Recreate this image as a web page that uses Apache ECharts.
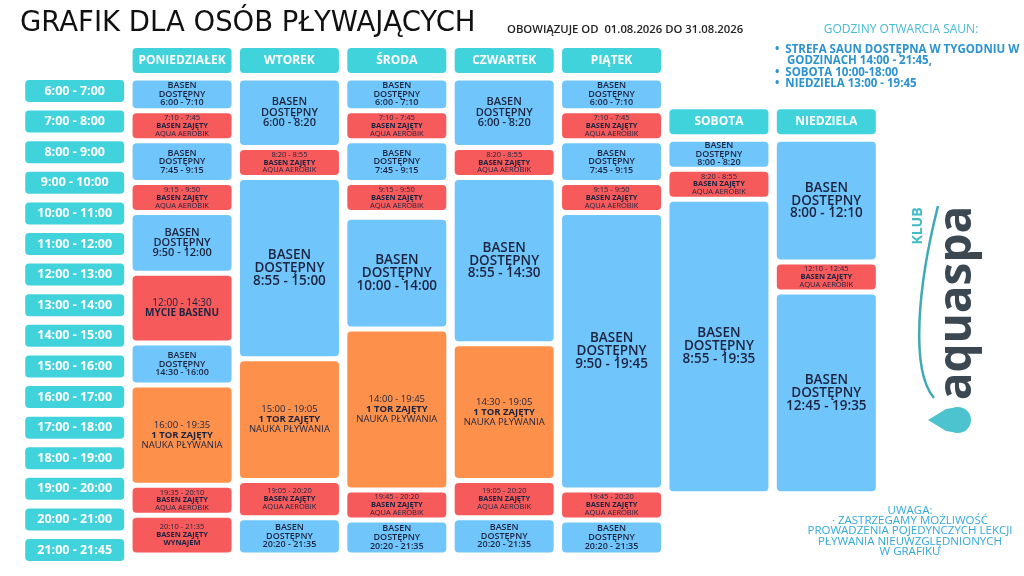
<!DOCTYPE html>
<html>
<head>
<meta charset="utf-8">
<script src="https://cdn.jsdelivr.net/npm/echarts@6/dist/echarts.min.js"></script>
<style>
  html, body { margin: 0; background: #fff; }
  #grafik { width: 1024px; height: 576px; }
</style>
</head>
<body>
<div id="grafik"></div>
<script>
// dni tygodnia i przedzialy godzinowe
var days = ['PONIEDZIAŁEK', 'WTOREK', 'ŚRODA', 'CZWARTEK', 'PIĄTEK', 'SOBOTA', 'NIEDZIELA'];
var hourSlots = ['6:00 - 7:00', '7:00 - 8:00', '8:00 - 9:00', '9:00 - 10:00', '10:00 - 11:00',
  '11:00 - 12:00', '12:00 - 13:00', '13:00 - 14:00', '14:00 - 15:00', '15:00 - 16:00',
  '16:00 - 17:00', '17:00 - 18:00', '18:00 - 19:00', '19:00 - 20:00', '20:00 - 21:00', '21:00 - 21:45'];

// [od, do, rodzaj]
var monday = [['6:00', '7:10', 'wolny'], ['7:10', '7:45', 'aerobik'], ['7:45', '9:15', 'wolny'],
  ['9:15', '9:50', 'aerobik'], ['9:50', '12:00', 'wolny'], ['12:00', '14:30', 'mycie'],
  ['14:30', '16:00', 'wolny'], ['16:00', '19:35', 'nauka'], ['19:35', '20:10', 'aerobik'],
  ['20:10', '21:35', 'wynajem']];
var tuesday = [['6:00', '8:20', 'wolny'], ['8:20', '8:55', 'aerobik'], ['8:55', '15:00', 'wolny'],
  ['15:00', '19:05', 'nauka'], ['19:05', '20:20', 'aerobik'], ['20:20', '21:35', 'wolny']];
var wednesday = [['6:00', '7:10', 'wolny'], ['7:10', '7:45', 'aerobik'], ['7:45', '9:15', 'wolny'],
  ['9:15', '9:50', 'aerobik'], ['10:00', '14:00', 'wolny'], ['14:00', '19:45', 'nauka'],
  ['19:45', '20:20', 'aerobik'], ['20:20', '21:35', 'wolny']];
var thursday = [['6:00', '8:20', 'wolny'], ['8:20', '8:55', 'aerobik'], ['8:55', '14:30', 'wolny'],
  ['14:30', '19:05', 'nauka'], ['19:05', '20:20', 'aerobik'], ['20:20', '21:35', 'wolny']];
var friday = [['6:00', '7:10', 'wolny'], ['7:10', '7:45', 'aerobik'], ['7:45', '9:15', 'wolny'],
  ['9:15', '9:50', 'aerobik'], ['9:50', '19:45', 'wolny'], ['19:45', '20:20', 'aerobik'],
  ['20:20', '21:35', 'wolny']];
var saturday = [['8:00', '8:20', 'wolny'], ['8:20', '8:55', 'aerobik'], ['8:55', '19:35', 'wolny']];
var sunday = [['8:00', '12:10', 'wolny'], ['12:10', '12:45', 'aerobik'], ['12:45', '19:35', 'wolny']];

var week = [monday, tuesday, wednesday, thursday, friday, saturday, sunday];

var FONT = '"Open Sans", sans-serif';
var TEAL = '#41d3dc';
var INK = '#1c2340';
var COLORS = { wolny: '#70c6fa', aerobik: '#f65a5a', nauka: '#fd914b', mycie: '#f65a5a', wynajem: '#f65a5a' };
var BOX_W = 99, GAP = 5, MIN_H = 30;

function toH(s) {
  var p = s.split(':');
  return +p[0] + p[1] / 60;
}

// short blocks get a minimum height, the long ones in the column give up the difference
function layoutDay(d, api) {
  var list = week[d], segs = [], prevEnd = null;
  list.forEach(function (b, i) {
    var s = toH(b[0]), e = toH(b[1]);
    if (prevEnd !== null && s > prevEnd) {
      segs.push({ h: api.coord([d + 1, s])[1] - api.coord([d + 1, prevEnd])[1], idx: -1 });
    }
    segs.push({ h: api.coord([d + 1, e])[1] - api.coord([d + 1, s])[1], idx: i });
    prevEnd = e;
  });
  var extra = 0, longSum = 0;
  segs.forEach(function (g) {
    if (g.idx >= 0 && g.h < MIN_H) { extra += MIN_H - g.h; g.h = MIN_H; g.fixed = true; }
    else longSum += g.h;
  });
  var k = (longSum - extra) / longSum;
  var y = api.coord([d + 1, toH(list[0][0])])[1], out = [];
  segs.forEach(function (g) {
    var h = g.fixed ? g.h : g.h * k;
    if (g.idx >= 0) out[g.idx] = [y, y + h];
    y += h;
  });
  return out;
}

function blockText(b, h) {
  var t = b[0] + ' - ' + b[1];
  switch (b[2]) {
    case 'wolny':
      var fs = h < 44 ? 9 : (h < 70 ? 11 : 13.5);
      return { text: 'BASEN\nDOSTĘPNY\n' + t, fontSize: fs, lineHeight: fs * 0.95, fontWeight: 600 };
    case 'aerobik':
      return { text: t + '\n{b|BASEN ZAJĘTY}\nAQUA AEROBIK', fontSize: 7.5, lineHeight: 7.8, fontWeight: 400 };
    case 'wynajem':
      return { text: t + '\n{b|BASEN ZAJĘTY}\n{b|WYNAJEM}', fontSize: 7.5, lineHeight: 7.8, fontWeight: 400 };
    case 'mycie':
      return { text: t + '\n{b|MYCIE BASENU}', fontSize: 10, lineHeight: 10.5, fontWeight: 400 };
    case 'nauka':
      return { text: t + '\n{b|1 TOR ZAJĘTY}\nNAUKA PŁYWANIA', fontSize: 9.5, lineHeight: 9.8, fontWeight: 400 };
  }
}

var blockData = [];
week.forEach(function (list, d) {
  list.forEach(function (b, i) {
    blockData.push([d + 1, toH(b[0]), toH(b[1]), d, i]);
  });
});

var hourData = hourSlots.map(function (s, i) {
  var p = s.split(' - ');
  return [0, toH(p[0]), toH(p[1]), i];
});

var headerData = days.map(function (n, d) { return [d + 1, d]; });

var chart = echarts.init(document.getElementById('grafik'));

var option = {
  animation: false,
  backgroundColor: '#fff',
  grid: { left: 21, width: 859, top: 78, height: 482 },
  xAxis: { type: 'category', data: [''].concat(days), show: false },
  yAxis: { type: 'value', inverse: true, min: 6, max: 21.75, show: false },
  graphic: [
    { type: 'text', x: 20, y: 24, style: { text: 'GRAFIK DLA OSÓB PŁYWAJĄCYCH', fill: '#111',
      font: '27.5px "DejaVu Sans", sans-serif', verticalAlign: 'middle' } },
    { type: 'text', x: 507, y: 30, style: { text: 'OBOWIĄZUJE OD  01.08.2026 DO 31.08.2026', fill: '#222',
      font: '600 11.3px ' + FONT, verticalAlign: 'middle' } },
    { type: 'text', x: 901, y: 30, style: { text: 'GODZINY OTWARCIA SAUN:', fill: '#45bcd3',
      font: '500 12px ' + FONT, align: 'center', verticalAlign: 'middle' } },
    { type: 'text', x: 775, y: 44, style: { text: '•  STREFA SAUN DOSTĘPNA W TYGODNIU W\n    GODZINACH 14:00 - 21:45,\n•  SOBOTA 10:00-18:00\n•  NIEDZIELA 13:00 - 19:45',
      fill: '#2c93d1', font: 'bold 11.5px ' + FONT, lineHeight: 11.3, verticalAlign: 'top' } },
    { type: 'text', x: 910, y: 531, style: { text: 'UWAGA:\n· ZASTRZEGAMY MOŻLIWOŚĆ\nPROWADZENIA POJEDYNCZYCH LEKCJI\nPŁYWANIA NIEUWZGLĘDNIONYCH\nW GRAFIKU',
      fill: '#33a9d9', font: '500 11.5px ' + FONT, lineHeight: 10.3, align: 'center', verticalAlign: 'middle' } },
    // logo
    { type: 'bezierCurve', shape: { x1: 938, y1: 206, cpx1: 918, cpy1: 285, cpx2: 910, cpy2: 370, x2: 934, y2: 398 },
      style: { stroke: '#3fa9b4', lineWidth: 2.5, fill: null } },
    { type: 'polygon', shape: { points: [[928, 420], [946, 409], [958, 407], [958, 433], [946, 431]] },
      style: { fill: '#4dc3cf' } },
    { type: 'circle', shape: { cx: 958, cy: 420, r: 13 }, style: { fill: '#4dc3cf' } },
    { type: 'text', x: 918, y: 226, rotation: Math.PI / 2, style: { text: 'KLUB', fill: '#3fbcc6',
      font: 'bold 14px ' + FONT, align: 'center', verticalAlign: 'middle' } },
    { type: 'text', x: 958, y: 303, rotation: Math.PI / 2, style: { text: 'aquaspa', fill: '#3b4852',
      font: 'bold 46px ' + FONT, align: 'center', verticalAlign: 'middle' } }
  ],
  series: [
    {
      type: 'custom',
      name: 'godziny',
      data: hourData,
      encode: { x: 0, y: [1, 2] },
      renderItem: function (params, api) {
        var p = api.coord([api.value(0), api.value(1)]);
        return {
          type: 'group',
          children: [
            { type: 'rect', shape: { x: p[0] - BOX_W / 2, y: p[1] + 2, width: BOX_W, height: 22, r: 4 },
              style: { fill: TEAL } },
            { type: 'text', x: p[0], y: p[1] + 13, style: { text: hourSlots[api.value(3)], fill: '#fff',
              font: 'bold 12.5px ' + FONT, align: 'center', verticalAlign: 'middle' } }
          ]
        };
      }
    },
    {
      type: 'custom',
      name: 'dni',
      data: headerData,
      encode: { x: 0 },
      renderItem: function (params, api) {
        var d = api.value(1);
        var top = layoutDay(d, api)[0][0] + GAP / 2 - 32.5;
        var cx = api.coord([d + 1, 6])[0];
        return {
          type: 'group',
          children: [
            { type: 'rect', shape: { x: cx - BOX_W / 2, y: top, width: BOX_W, height: 25, r: 4 },
              style: { fill: TEAL } },
            { type: 'text', x: cx, y: top + 12.5, style: { text: days[d], fill: '#fff',
              font: 'bold 12px ' + FONT, align: 'center', verticalAlign: 'middle' } }
          ]
        };
      }
    },
    {
      type: 'custom',
      name: 'basen',
      data: blockData,
      encode: { x: 0, y: [1, 2] },
      renderItem: function (params, api) {
        var d = api.value(3), i = api.value(4);
        var b = week[d][i];
        var box = layoutDay(d, api)[i];
        var cx = api.coord([d + 1, 6])[0];
        var top = box[0] + GAP / 2, h = box[1] - box[0] - GAP;
        var t = blockText(b, h);
        return {
          type: 'group',
          children: [
            { type: 'rect', shape: { x: cx - BOX_W / 2, y: top, width: BOX_W, height: h, r: 4 },
              style: { fill: COLORS[b[2]] } },
            { type: 'text', x: cx, y: top + h / 2, style: {
              text: t.text, fill: INK, fontFamily: FONT, fontSize: t.fontSize, fontWeight: t.fontWeight,
              lineHeight: t.lineHeight, align: 'center', verticalAlign: 'middle',
              rich: { b: { fontFamily: FONT, fontSize: t.fontSize, lineHeight: t.lineHeight, fontWeight: 'bold', fill: INK } }
            } }
          ]
        };
      }
    }
  ]
};

chart.setOption(option);
</script>
</body>
</html>
